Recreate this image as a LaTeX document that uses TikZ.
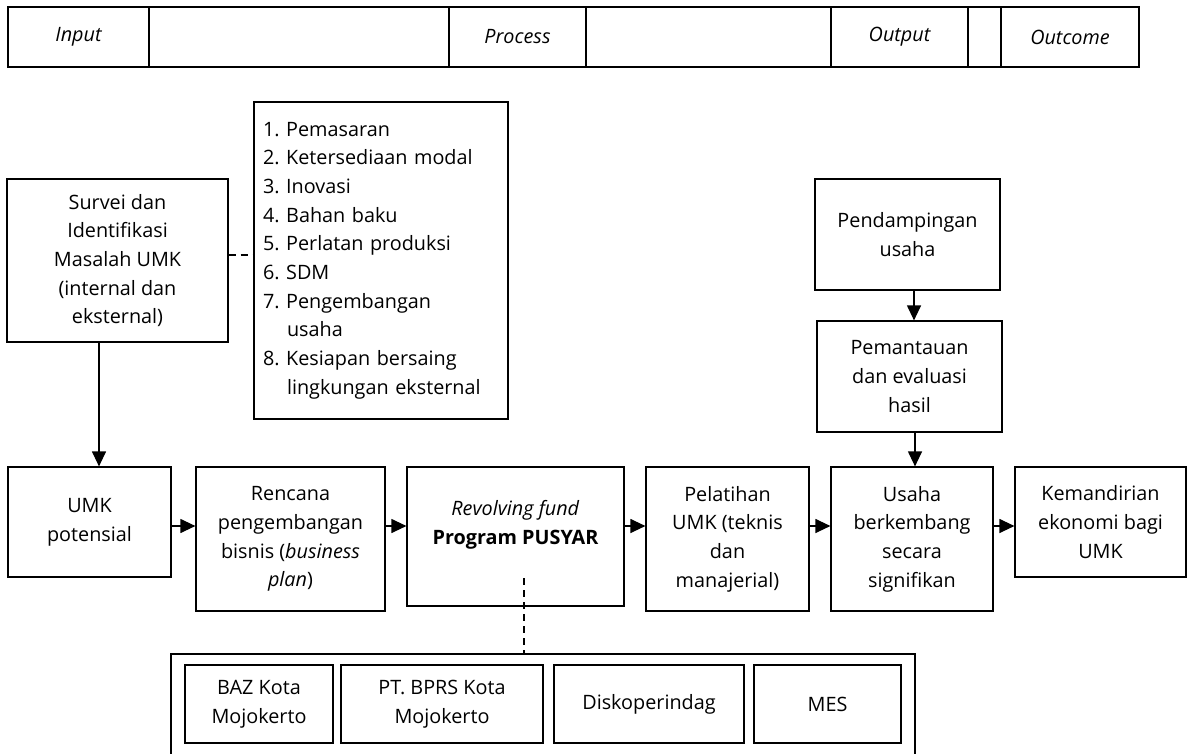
\documentclass[tikz,border=0pt]{standalone}
\usepackage{fontspec}
\setmainfont{Open Sans}
\usetikzlibrary{arrows.meta}
\frenchspacing
\begin{document}
\begin{tikzpicture}[x=1pt,y=-1pt]
	\tikzstyle{BOX}=[draw=black,line width=1.2pt,align=center,inner sep=2pt,font=\fontsize{19.8}{28.7}\selectfont]
	\tikzstyle{CELL}=[draw=black,line width=1.2pt,minimum height=60pt,inner sep=0pt,font=\fontsize{19.8}{28.7}\selectfont\itshape]
	\tikzstyle{ARR}=[line width=1.2pt,-{Triangle[length=15pt,width=14pt]}]
	\tikzstyle{DSH}=[line width=1.2pt,dash pattern=on 7pt off 5pt]
	\useasboundingbox (0,0) rectangle (1190,754);
	% header row
	\begin{scope}
	\node[CELL,minimum width=141pt] (input)   at (78.5,37)  {Input};
	\node[CELL,minimum width=300pt] (gap1)    at (299,37)   {};
	\node[CELL,minimum width=137pt] (process) at (517.5,37) {Process};
	\node[CELL,minimum width=245pt] (gap2)    at (708.5,37) {};
	\node[CELL,minimum width=137pt] (output)  at (899.5,37) {Output};
	\node[CELL,minimum width=33pt]  (gap3)    at (984.5,37) {};
	\node[CELL,minimum width=138pt] (outcome) at (1070,37)  {Outcome};
	\end{scope}
	
	\begin{scope}
	\node[BOX,minimum width=221pt,minimum height=163pt] (survei) at (117.5,260.5)
		{Survei dan\\Identifikasi\\Masalah UMK\\(internal dan\\eksternal)};
	\node[BOX,minimum width=254pt,minimum height=317pt,text width=236pt,align=left] (masalah) at (381,260.5)
		{1. Pemasaran\\2. Ketersediaan modal\\3. Inovasi\\4. Bahan baku\\5. Perlatan produksi\\6. SDM\\
		 7. Pengembangan\\\hspace*{24pt}usaha\\8. Kesiapan bersaing\\\hspace*{24pt}lingkungan eksternal};
	\node[BOX,minimum width=185pt,minimum height=111pt] (pend)   at (907.5,234.5) {Pendampingan\\usaha};
	\node[BOX,minimum width=185pt,minimum height=111pt] (pantau) at (909.5,376.5) {Pemantauan\\dan evaluasi\\hasil};
	\node[BOX,minimum width=163pt,minimum height=110pt] (umk)      at (89.5,522)  {UMK\\potensial};
	\node[BOX,minimum width=189pt,minimum height=144pt] (rencana)  at (290.5,539) {Rencana\\pengembangan\\bisnis (\textit{business}\\\textit{plan})};
	\node[BOX,minimum width=217pt,minimum height=139pt] (fund)     at (515.5,536.5) {\textit{Revolving fund}\\\textbf{Program PUSYAR}\\\mbox{}};
	\node[BOX,minimum width=163pt,minimum height=144pt] (latih)    at (727.5,539) {Pelatihan\\UMK (teknis\\dan\\manajerial)};
	\node[BOX,minimum width=162pt,minimum height=144pt] (usaha)    at (912,539)   {Usaha\\berkembang\\secara\\signifikan};
	\node[BOX,minimum width=171pt,minimum height=110pt] (mandiri)  at (1100.5,522) {Kemandirian\\ekonomi bagi\\UMK};
	\node[BOX,minimum width=148pt,minimum height=78pt] (baz)   at (259,704)   {BAZ Kota\\Mojokerto};
	\node[BOX,minimum width=202pt,minimum height=78pt] (bprs)  at (442,704)   {PT. BPRS Kota\\Mojokerto};
	\node[BOX,minimum width=190pt,minimum height=78pt] (disko) at (649,704)   {Diskoperindag};
	\node[BOX,minimum width=147pt,minimum height=78pt] (mes)   at (827.5,704) {MES};
	\end{scope}
	
	% open frame round the partners
	\draw[line width=1.2pt] (171,760) -- (171,654) -- (915,654) -- (915,760);
	\coordinate (mitra) at (524,654);
	\coordinate (dtop) at (524,578);
	\coordinate (ar) at (0,526);
	
	\path[ARR]
	([xshift=-18.5pt]survei.south) edge ([xshift=-18.5pt]survei.south |- umk.north)
	(umk.east |- ar) edge (rencana.west |- ar)
	(rencana.east |- ar) edge (fund.west |- ar)
	(fund.east |- ar) edge (latih.west |- ar)
	(latih.east |- ar) edge (usaha.west |- ar)
	(usaha.east |- ar) edge (mandiri.west |- ar)
	([xshift=6.5pt]pend.south) edge ([xshift=6.5pt]pend.south |- pantau.north)
	([xshift=5.5pt]pantau.south) edge ([xshift=5.5pt]pantau.south |- usaha.north)
	;
	\path[DSH]
	([yshift=5.5pt]survei.east) edge ([yshift=5.5pt]survei.east -| masalah.west)
	(dtop) edge (mitra)
	;
\end{tikzpicture}
\end{document}
